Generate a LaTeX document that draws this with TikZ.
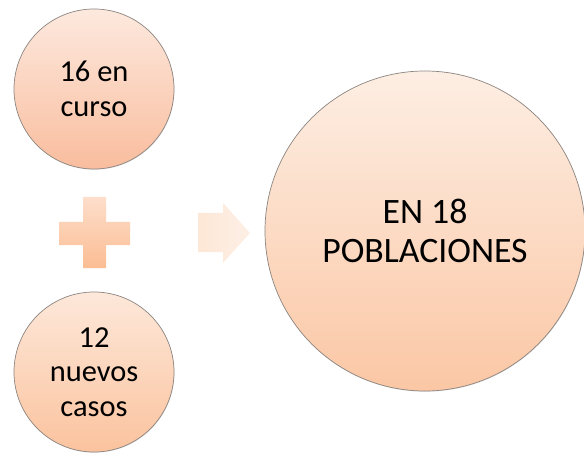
\documentclass[tikz,border=0pt]{standalone}
\usepackage{fontspec}
\setmainfont{Carlito}
\usetikzlibrary{shadows}
\definecolor{sumTopA}{HTML}{FDE9DE}
\definecolor{sumBotA}{HTML}{F9BD9E}
\definecolor{sumTopB}{HTML}{FDE8DA}
\definecolor{sumBotB}{HTML}{FBC39E}
\definecolor{sumTopC}{HTML}{FDEEE3}
\definecolor{sumBotC}{HTML}{FBC7A5}
\definecolor{sumPlusT}{HTML}{FDDECB}
\definecolor{sumPlusB}{HTML}{FBBD93}
\definecolor{sumArrowL}{HTML}{FDE7D6}
\definecolor{sumArrowR}{HTML}{FDEFE6}
\definecolor{sumEdge}{HTML}{8C8580}
\tikzset{
  sum diagram/.style={
    x=0.03cm, y=-0.03cm,
    every node/.style={text=black, inner sep=0pt, outer sep=0pt,
      align=center}
  },
  sum ball/.style={circle, draw=sumEdge, line width=0.6pt,
    drop shadow={opacity=0.25, shadow xshift=0.4pt, shadow yshift=-0.6pt},
    font=\fontsize{26}{29.5}\selectfont},
  sum big/.style={sum ball, font=\fontsize{30.5}{33.5}\selectfont}
}
\begin{document}
\begin{tikzpicture}[sum diagram]
    \useasboundingbox (0,0) rectangle (584,454);
    \node[sum ball, minimum size=4.8cm, top color=sumTopA, bottom color=sumBotA]
      (enCurso) at (94,89) {16 en\\curso};
    \node[sum ball, minimum size=4.8cm, top color=sumTopB, bottom color=sumBotB]
      (nuevos) at (94,372) {12\\nuevos\\casos};
    \node[sum big, minimum size=9.6cm, top color=sumTopC, bottom color=sumBotC]
      (poblaciones) at (425,231) {EN 18\\POBLACIONES};
    % plus sign
    \shade[top color=sumPlusT, bottom color=sumPlusB]
      (83,197) -- (106,197) -- (106,222) -- (130,222) -- (130,245)
      -- (106,245) -- (106,268) -- (83,268) -- (83,245) -- (59,245)
      -- (59,222) -- (83,222) -- cycle;
    % arrow
    \shade[left color=sumArrowL, right color=sumArrowR]
      (198,213) -- (223,213) -- (223,203) -- (250,233) -- (223,263)
      -- (223,252) -- (198,252) -- cycle;
  \end{tikzpicture}
\end{document}
